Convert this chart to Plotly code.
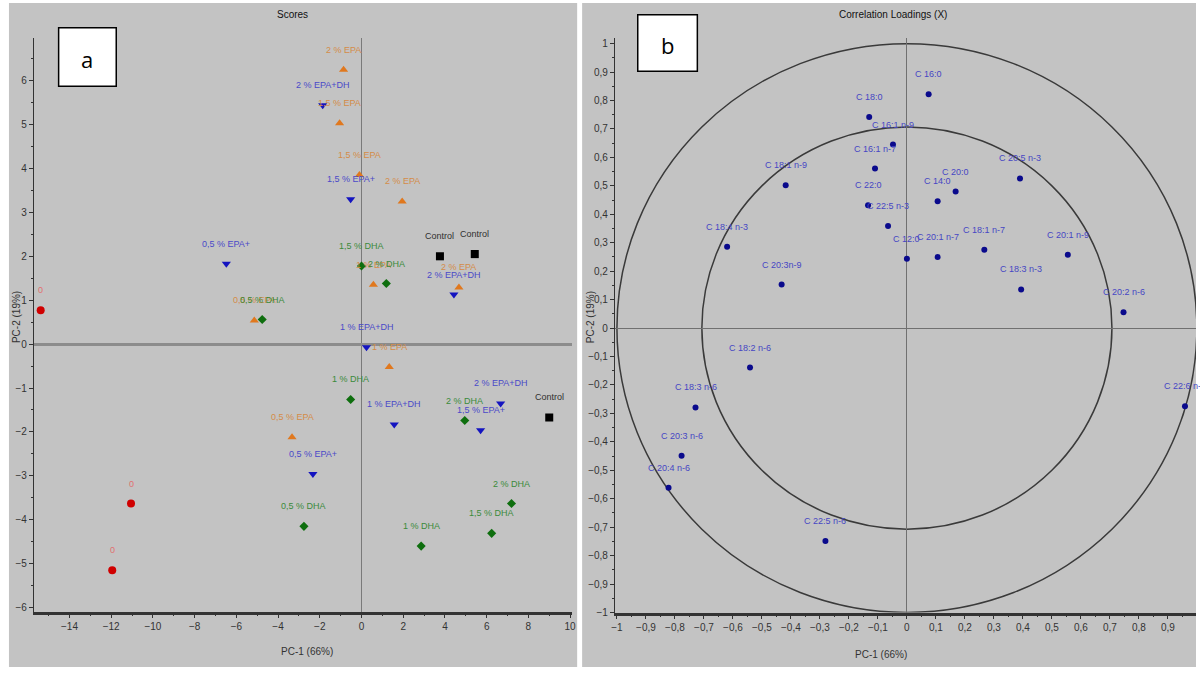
import plotly.graph_objects as go

# ---------------- Panel a : Scores ----------------
zero_x = [-15.38, -11.05, -11.95]
zero_y = [0.77, -3.63, -5.15]
zero_lbl = ["0", "0", "0"]

epa_x = [-0.86, -1.05, -0.10, 1.95, 0.57, 4.67, 1.33, -3.33, -5.14]
epa_y = [6.25, 5.03, 3.85, 3.25, 1.35, 1.29, -0.52, -2.12, 0.54]
epa_lbl = ["2 % EPA", "1,5 % EPA", "1,5 % EPA", "2 % EPA", "1 % EPA",
           "2 % EPA", "1 % EPA", "0,5 % EPA", "0,5 % EPA"]

epadha_x = [-1.86, -0.52, -6.48, 4.43, 0.24, 1.57, -2.33, 5.71, 6.67]
epadha_y = [5.44, 3.30, 1.83, 1.13, -0.07, -1.83, -2.96, -1.96, -1.35]
epadha_lbl = ["2 % EPA+DH", "1,5 % EPA+", "0,5 % EPA+", "2 % EPA+DH", "1 % EPA+DH",
              "1 % EPA+DH", "0,5 % EPA+", "1,5 % EPA+", "2 % EPA+DH"]

dha_x = [-4.76, 0.0, 1.19, -0.52, -2.76, 2.86, 4.95, 6.24, 7.19]
dha_y = [0.56, 1.78, 1.38, -1.26, -4.15, -4.60, -1.74, -4.31, -3.63]
dha_lbl = ["0,5 % DHA", "1,5 % DHA", "2 % DHA", "1 % DHA", "0,5 % DHA",
           "1 % DHA", "2 % DHA", "1,5 % DHA", "2 % DHA"]

ctrl_x = [3.76, 5.43, 9.0]
ctrl_y = [2.0, 2.05, -1.67]
ctrl_lbl = ["Control", "Control", "Control"]

# ---------------- Panel b : Correlation loadings ----------------
load_lbl = ["C 16:0", "C 18:0", "C 16:1 n-9", "C 16:1 n-7", "C 22:0", "C 22:5 n-3",
            "C 18:1 n-9", "C 18:4 n-3", "C 20:3n-9", "C 14:0", "C 20:0", "C 20:5 n-3",
            "C 12:0", "C 20:1 n-7", "C 18:1 n-7", "C 20:1 n-9", "C 18:3 n-3", "C 20:2 n-6",
            "C 18:2 n-6", "C 18:3 n-6", "C 20:3 n-6", "C 20:4 n-6", "C 22:5 n-6", "C 22:6 n-3"]
load_x = [0.075, -0.130, -0.048, -0.110, -0.134, -0.065, -0.418, -0.620, -0.432, 0.106,
          0.168, 0.390, 0.0, 0.106, 0.267, 0.555, 0.394, 0.747, -0.541, -0.729,
          -0.777, -0.822, -0.281, 0.959]
load_y = [0.822, 0.742, 0.645, 0.561, 0.432, 0.359, 0.502, 0.286, 0.153, 0.446,
          0.480, 0.526, 0.244, 0.250, 0.275, 0.258, 0.136, 0.056, -0.139, -0.279,
          -0.449, -0.561, -0.749, -0.275]

W, H = 1200, 675
BG = "#c3c3c3"
FONT = "Liberation Sans Narrow, Arial Narrow, Liberation Sans, sans-serif"
LBL_SIZE = 9

def px(x):
    return x / W

def py(y):
    return 1 - y / H

fig = go.Figure()

groups = [
    (zero_x, zero_y, zero_lbl, "circle", 8, "#d00000", "#e07070"),
    (epa_x, epa_y, epa_lbl, "triangle-up", 8, "#e0781e", "#d48c48"),
    (epadha_x, epadha_y, epadha_lbl, "triangle-down", 8, "#1414c0", "#4a4ac8"),
    (dha_x, dha_y, dha_lbl, "diamond", 7, "#0e6e0e", "#3a8a3a"),
    (ctrl_x, ctrl_y, ctrl_lbl, "square", 8, "#000000", "#303030"),
]

annotations = []
for xs, ys, lbls, sym, sz, mcol, tcol in groups:
    fig.add_trace(go.Scatter(x=xs, y=ys, mode="markers", xaxis="x", yaxis="y",
                             marker=dict(symbol=sym, size=sz, color=mcol, line=dict(width=0)),
                             showlegend=False, hoverinfo="skip"))
    for xv, yv, t in zip(xs, ys, lbls):
        annotations.append(dict(x=xv, y=yv, xref="x", yref="y", text=t, showarrow=False,
                                xanchor="center", yanchor="middle",
                                yshift=20, font=dict(family=FONT, size=LBL_SIZE, color=tcol)))

fig.add_trace(go.Scatter(x=load_x, y=load_y, mode="markers", xaxis="x2", yaxis="y2",
                         marker=dict(symbol="circle", size=6, color="#0a0a8c"),
                         showlegend=False, hoverinfo="skip"))
for xv, yv, t in zip(load_x, load_y, load_lbl):
    annotations.append(dict(x=xv, y=yv, xref="x2", yref="y2", text=t, showarrow=False,
                            xanchor="center", yanchor="middle",
                            yshift=20, font=dict(family=FONT, size=LBL_SIZE, color="#4646c4")))

def paper_text(x, y, text, size=10, color="#333", angle=0, family=FONT):
    return dict(x=px(x), y=py(y), xref="paper", yref="paper", text=text, showarrow=False,
                xanchor="center", yanchor="middle", textangle=angle,
                font=dict(family=family, size=size, color=color))

annotations += [
    paper_text(290, 15, "Scores", 10, "#111"),
    paper_text(895, 15, "Correlation Loadings (X)", 10, "#111"),
    paper_text(305, 657, "PC-1 (66%)"),
    paper_text(883, 660, "PC-1 (66%)"),
    paper_text(12, 320, "PC-2 (19%)", angle=-90),
    paper_text(590, 320, "PC-2 (19%)", angle=-90),
    paper_text(84, 60, "a", 22, "#000", family="Open Sans, sans-serif"),
    paper_text(668, 45, "b", 22, "#000", family="Open Sans, sans-serif"),
]

shapes = [
    dict(type="rect", xref="paper", yref="paper", x0=px(5), x1=px(577), y0=py(673), y1=py(3),
         fillcolor=BG, line=dict(width=0), layer="below"),
    dict(type="rect", xref="paper", yref="paper", x0=px(582), x1=px(1200), y0=py(673), y1=py(3),
         fillcolor=BG, line=dict(width=0), layer="below"),
    dict(type="circle", xref="x2", yref="y2", x0=-1, y0=-1, x1=1, y1=1,
         line=dict(color="#3a3a3a", width=1.5), layer="below"),
    dict(type="circle", xref="x2", yref="y2", x0=-0.7071, y0=-0.7071, x1=0.7071, y1=0.7071,
         line=dict(color="#3a3a3a", width=1.5), layer="below"),
    dict(type="rect", xref="paper", yref="paper", x0=px(55), x1=px(113), y0=py(87), y1=py(28),
         fillcolor="white", line=dict(color="black", width=1.5)),
    dict(type="rect", xref="paper", yref="paper", x0=px(638), x1=px(698), y0=py(72), y1=py(15),
         fillcolor="white", line=dict(color="black", width=1.5)),
]

tickfont = dict(family=FONT, size=10, color="#333")
common = dict(showgrid=False, ticks="outside", ticklen=4, tickcolor="#333", tickfont=tickfont,
              showline=True, linecolor="#333", mirror=False)

fig.update_layout(
    width=W, height=H, autosize=False,
    margin=dict(l=0, r=0, t=0, b=0),
    paper_bgcolor="white", plot_bgcolor=BG,
    separators=", ",
    showlegend=False,
    xaxis=dict(domain=[px(30), px(572)], range=[-15.71, 10.1], dtick=2, tick0=0,
               minor=dict(ticks="outside", dtick=1, ticklen=2, tickcolor="#333"),
               zeroline=True, zerolinecolor="#7a7a7a", zerolinewidth=1,
               anchor="y", linewidth=2.5, **common),
    yaxis=dict(domain=[py(617), py(38)], range=[-6.09, 6.98], dtick=1, tick0=0,
               minor=dict(ticks="outside", dtick=0.5, ticklen=2, tickcolor="#333"),
               zeroline=True, zerolinecolor="#8c8c8c", zerolinewidth=3,
               anchor="x", linewidth=1, **common),
    xaxis2=dict(domain=[px(615), 1.0], range=[-1.007, 0.997], dtick=0.1, tick0=0,
                minor=dict(ticks="outside", dtick=0.05, ticklen=2, tickcolor="#333"),
                zeroline=True, zerolinecolor="#707070", zerolinewidth=1,
                anchor="y2", linewidth=2.5, **common),
    yaxis2=dict(domain=[py(618), py(38)], range=[-1.0, 1.021], dtick=0.1, tick0=0,
                minor=dict(ticks="outside", dtick=0.05, ticklen=2, tickcolor="#333"),
                zeroline=True, zerolinecolor="#707070", zerolinewidth=1,
                anchor="x2", linewidth=1, **common),
    annotations=annotations,
    shapes=shapes,
)

fig.write_html("out.html",
               config={"displayModeBar": False},
               post_script="document.body.style.margin='0px';"
                           "document.body.style.padding='0px';"
                           "document.body.style.overflow='hidden';")
